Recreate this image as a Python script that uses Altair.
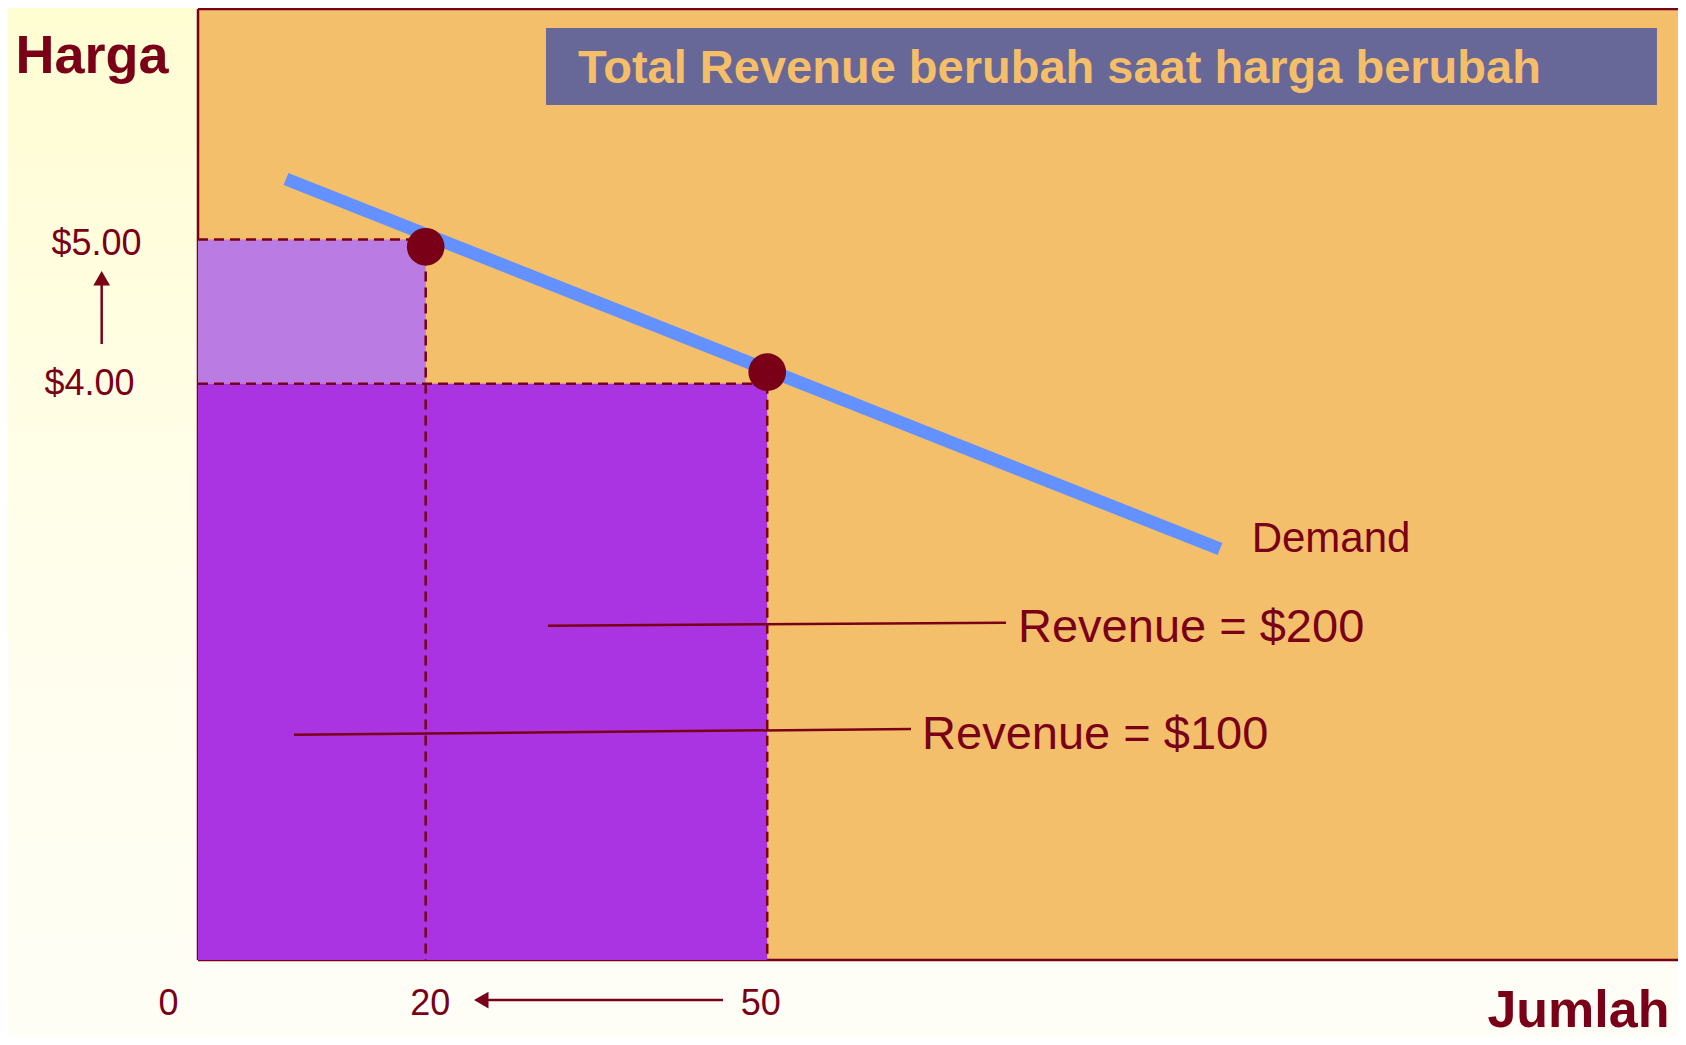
import altair as alt
import pandas as pd

# ---------------- data (quantity = Jumlah, price = Harga) ----------------
DARK = "#7A0018"
FONT = "Liberation Sans"

# revenue rectangles
rect_q0 = [0, 0]
rect_q1 = [20, 50]
rect_p0 = [4, 0]
rect_p1 = [5, 4]
rect_colors = ["#BA7BE3", "#AA33E2"]

# dashed guide segments
dash_q0 = [0, 0, 20, 50]
dash_q1 = [20, 50, 20, 50]
dash_p0 = [5, 4, 5, 4]
dash_p1 = [5, 4, 0, 0]

# demand curve
demand_q = [7.73, 89.77]
demand_p = [5.42, 2.852]

# price/quantity points on the demand curve
point_q = [20, 50]
point_p = [4.95, 4.08]

# leader lines for the revenue labels
leader_q0 = [30.74, 8.43]
leader_q1 = [70.97, 62.63]
leader_p0 = [2.320, 1.564]
leader_p1 = [2.341, 1.603]

# annotation labels
label_text = ["Revenue = $200", "Revenue = $100", "Demand"]
label_q = [72.03, 63.6, 92.55]
label_p = [2.207, 1.464, 2.834]
label_size = [47, 47, 42]

# title banner
banner_text = ["Total Revenue berubah saat harga berubah"]
banner_q0 = [30.57]
banner_q1 = [128.15]
banner_p0 = [5.934]
banner_p1 = [6.468]
banner_text_q = [33.38]
banner_text_p = [6.084]

# arrows (price rises 4 -> 5, quantity falls 50 -> 20)
arrow_shaft_q0 = [-8.46, 25.47]
arrow_shaft_q1 = [-8.46, 46.11]
arrow_shaft_p0 = [4.275, -0.278]
arrow_shaft_p1 = [4.69, -0.278]
arrow_head_q = [-8.46, 24.88]
arrow_head_p = [4.731, -0.278]
arrow_head_shape = ["triangle-up", "triangle-left"]

# axes
x_ticks = [0, 20, 50]
y_ticks = [4, 5]
x_domain = [0, 130]
y_domain = [0, 6.6]

# plot frame (left, bottom, top borders)
frame_q0 = [0, 0, 0]
frame_q1 = [0, 130, 130]
frame_p0 = [0, 0, 6.6]
frame_p1 = [6.6, 0, 6.6]

# ---------------- scales / axes ----------------
xs = alt.Scale(domain=x_domain, nice=False, zero=False)
ys = alt.Scale(domain=y_domain, nice=False, zero=False)

xaxis = alt.Axis(
    values=x_ticks, title="Jumlah", grid=False, ticks=False, tickSize=0,
    domain=False, labelFlush=False, zindex=2,
    labelFont=FONT, labelFontSize=36, labelColor=DARK, labelPadding=26,
    labelOffset={"expr": "datum.value === 0 ? -30 : (datum.value === 50 ? -7 : 4)"},
    titleFont=FONT, titleFontSize=52, titleFontWeight="bold", titleColor=DARK,
    titleX=1471, titleY=66, titleAlign="right", titleBaseline="alphabetic", titleAngle=0,
)
yaxis = alt.Axis(
    values=y_ticks, format="$.2f", title="Harga", grid=False, ticks=False, tickSize=0,
    domain=False, zindex=2,
    labelFont=FONT, labelFontSize=36, labelColor=DARK,
    labelPadding={"condition": {"test": "datum.value === 4", "value": 64}, "value": 57},
    labelOffset={"condition": {"test": "datum.value === 5", "value": 4}, "value": 0},
    labelBaseline="middle",
    titleFont=FONT, titleFontSize=54, titleFontWeight="bold", titleColor=DARK,
    titleX=-183, titleY=63, titleAlign="left", titleBaseline="alphabetic", titleAngle=0,
)


def X(f):
    return alt.X(f, type="quantitative", scale=xs, axis=xaxis)


def Y(f):
    return alt.Y(f, type="quantitative", scale=ys, axis=yaxis)


# ---------------- layers ----------------
bg = alt.Chart(pd.DataFrame({"a": [0]})).mark_rect(
    color=alt.LinearGradient(
        gradient="linear", x1=0, y1=0, x2=0, y2=1,
        stops=[alt.GradientStop(offset=0, color="#FFFDD2"),
               alt.GradientStop(offset=0.55, color="#FFFEEC"),
               alt.GradientStop(offset=1, color="#FFFEF6")],
    )
).encode(x=alt.value(-190), x2=alt.value(0), y=alt.value(-1), y2=alt.value(1030))

frame = alt.Chart(pd.DataFrame({"q0": frame_q0, "q1": frame_q1, "p0": frame_p0,
                                "p1": frame_p1})).mark_rule(
    color=DARK, strokeWidth=2.5
).encode(x=X("q0"), x2="q1", y=Y("p0"), y2="p1")

rects = alt.Chart(pd.DataFrame({"q0": rect_q0, "q1": rect_q1, "p0": rect_p0,
                                "p1": rect_p1, "c": rect_colors})).mark_rect().encode(
    x=X("q0"), x2="q1", y=Y("p0"), y2="p1",
    color=alt.Color("c:N", scale=None),
)

dashes = alt.Chart(pd.DataFrame({"q0": dash_q0, "q1": dash_q1, "p0": dash_p0,
                                 "p1": dash_p1})).mark_rule(
    color=DARK, strokeWidth=2.5, strokeDash=[10, 6]
).encode(x=X("q0"), x2="q1", y=Y("p0"), y2="p1")

demand = alt.Chart(pd.DataFrame({"q": demand_q, "p": demand_p})).mark_line(
    color="#6391FF", strokeWidth=13, strokeCap="butt"
).encode(x=X("q"), y=Y("p"))

points = alt.Chart(pd.DataFrame({"q": point_q, "p": point_p})).mark_point(
    filled=True, color=DARK, size=1420, opacity=1, shape="circle"
).encode(x=X("q"), y=Y("p"))

leaders = alt.Chart(pd.DataFrame({"q0": leader_q0, "q1": leader_q1, "p0": leader_p0,
                                  "p1": leader_p1})).mark_rule(
    color=DARK, strokeWidth=2.5
).encode(x=X("q0"), x2="q1", y=Y("p0"), y2="p1")

labels = alt.Chart(pd.DataFrame({"t": label_text, "q": label_q, "p": label_p,
                                 "s": label_size})).mark_text(
    align="left", baseline="alphabetic", font=FONT, color=DARK
).encode(x=X("q"), y=Y("p"), text="t:N", size=alt.Size("s:Q", scale=None))

banner = alt.Chart(pd.DataFrame({"q0": banner_q0, "q1": banner_q1, "p0": banner_p0,
                                 "p1": banner_p1})).mark_rect(color="#676898").encode(
    x=X("q0"), x2="q1", y=Y("p0"), y2="p1"
)

banner_txt = alt.Chart(pd.DataFrame({"t": banner_text, "q": banner_text_q,
                                     "p": banner_text_p})).mark_text(
    align="left", baseline="alphabetic", font=FONT, fontSize=47, fontWeight="bold",
    color="#F5BF69"
).encode(x=X("q"), y=Y("p"), text="t:N")

shafts = alt.Chart(pd.DataFrame({"q0": arrow_shaft_q0, "q1": arrow_shaft_q1,
                                 "p0": arrow_shaft_p0, "p1": arrow_shaft_p1})).mark_rule(
    color=DARK, strokeWidth=2.5
).encode(x=X("q0"), x2="q1", y=Y("p0"), y2="p1")

heads = alt.Chart(pd.DataFrame({"q": arrow_head_q, "p": arrow_head_p,
                                "sh": arrow_head_shape})).mark_point(
    filled=True, color=DARK, size=280, opacity=1
).encode(x=X("q"), y=Y("p"), shape=alt.Shape("sh:N", scale=None))

chart = alt.layer(
    bg, frame, rects, dashes, demand, points, leaders, labels, banner, banner_txt,
    shafts, heads
).properties(
    width=1480, height=951,
    autosize=alt.AutoSizeParams(type="none"),
    padding={"left": 190, "top": 1, "right": 0, "bottom": 77},
    background="#FFFEF6",
).configure_view(fill="#F4BF6B", stroke="transparent")

chart.save("out.html", embed_options={"renderer": "svg", "actions": False})
